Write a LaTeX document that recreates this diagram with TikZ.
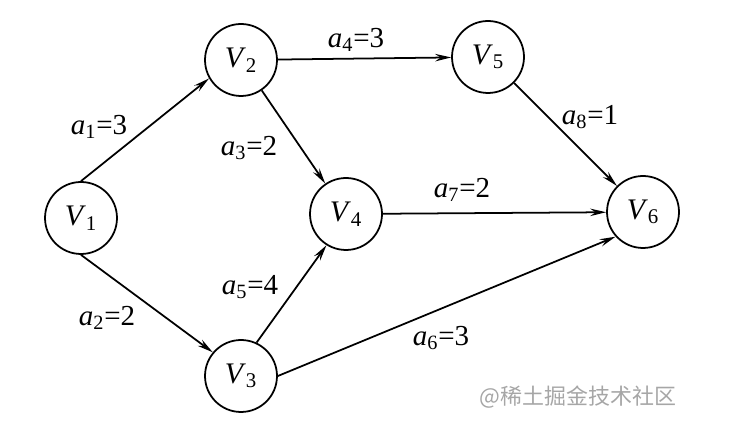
\documentclass[tikz,border=0pt]{standalone}
\usepackage{fontspec}
\setmainfont{Liberation Serif}
\newfontfamily\cjkfont{Noto Sans CJK SC}
\usetikzlibrary{arrows.meta}

\newcommand{\peso}[3]{\textit{#1}\textsubscript{#2}=#3}
\newcommand{\evt}[1]{\textit{V}\textsubscript{#1}}

\begin{document}
\begin{tikzpicture}[x=0.02cm, y=-0.02cm, >={Stealth[length=3.2mm, width=1.5mm, inset=1.1mm]}, line width=1pt]
  \tikzset{
    evento/.style={draw, circle, minimum size=1.44cm, inner sep=0pt, font=\fontsize{17}{19}\selectfont},
    actividad/.style={->},
    peso/.style={font=\fontsize{16.5}{18}\selectfont, inner sep=1pt}
  }
  \useasboundingbox (0,0) rectangle (730,448);
  % eventos
  \node[evento] (v1) at (81,218)  {\evt{1}};
  \node[evento] (v2) at (241,60)  {\evt{2}};
  \node[evento] (v3) at (241,376) {\evt{3}};
  \node[evento] (v4) at (346,214) {\evt{4}};
  \node[evento] (v5) at (488,57)  {\evt{5}};
  \node[evento] (v6) at (643,212) {\evt{6}};
  % actividades
  \draw[actividad] (v1.north) -- (v2.210);
  \draw[actividad] (v1.south) -- (v3.140);
  \draw[actividad] (v2) -- (v4);
  \draw[actividad] (v2) -- (v5);
  \draw[actividad] (v3.65) -- (v4.238);
  \draw[actividad] (v3.east) -- (v6.222);
  \draw[actividad] (v4) -- (v6);
  \draw[actividad] (v5) -- (v6);
  % pesos
  \node[peso] (p1) at (99,127)  {\peso{a}{1}{3}};
  \node[peso] (p2) at (107,318) {\peso{a}{2}{2}};
  \node[peso] (p3) at (249,148) {\peso{a}{3}{2}};
  \node[peso] (p4) at (356,40)  {\peso{a}{4}{3}};
  \node[peso] (p5) at (250,287) {\peso{a}{5}{4}};
  \node[peso] (p6) at (441,338) {\peso{a}{6}{3}};
  \node[peso] (p7) at (462,190) {\peso{a}{7}{2}};
  \node[peso] (p8) at (590,117) {\peso{a}{8}{1}};
  % marca de agua
  \node[text=black!35, font=\cjkfont\fontsize{12.5}{14}\selectfont] (marca) at (578,397) {@稀土掘金技术社区};
\end{tikzpicture}
\end{document}
